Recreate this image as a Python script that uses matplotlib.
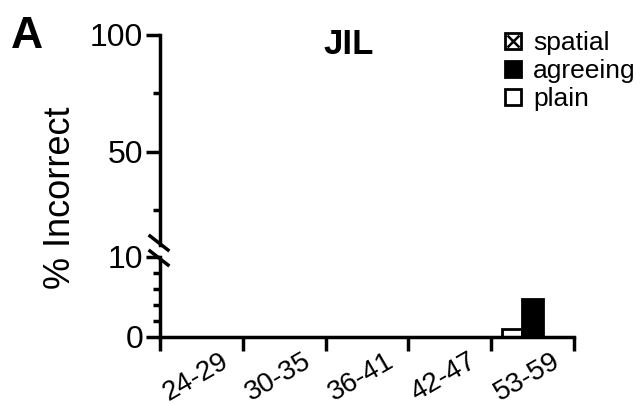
import matplotlib
matplotlib.use("Agg")
import matplotlib.pyplot as plt
from matplotlib.lines import Line2D
from matplotlib.legend_handler import HandlerTuple
import numpy as np

plt.rcParams['font.family'] = ['Liberation Sans', 'DejaVu Sans']
plt.rcParams['hatch.linewidth'] = 1.5

groups = ['24-29', '30-35', '36-41', '42-47', '53-59']
spatial = [0, 0, 0, 0, 1.0]
agreeing = [0, 0, 0, 0, 4.8]
plain = [0, 0, 0, 0, 0]

fig = plt.figure(figsize=(6.4, 4.05), dpi=100)
left, width = 160 / 640, 414 / 640
ax_top = fig.add_axes([left, 160 / 405, width, 210 / 405])
ax_bot = fig.add_axes([left, 68 / 405, width, 80 / 405])

x = np.arange(len(groups)) + 0.5
w = 0.25
for ax in (ax_top, ax_bot):
    ax.bar(x - w, spatial, w, color='white', edgecolor='black', hatch='x', linewidth=2)
    ax.bar(x, agreeing, w, color='black', edgecolor='black', linewidth=2)
    ax.bar(x + w, plain, w, color='white', edgecolor='black', linewidth=2)
    ax.set_xlim(0, 5)
    for s in ('top', 'right'):
        ax.spines[s].set_visible(False)
    ax.spines['left'].set_linewidth(2.5)
    ax.tick_params(axis='y', width=2.5, length=10, labelsize=23, pad=2)
    ax.tick_params(axis='y', which='minor', width=2.5, length=5)

ax_top.set_ylim(10, 100)
ax_top.set_yticks([50, 100])
ax_top.set_yticks([25, 75], minor=True)
ax_top.spines['bottom'].set_visible(False)
ax_top.set_xticks([])

ax_bot.set_ylim(0, 10)
ax_bot.set_yticks([0, 10])
ax_bot.set_yticks([2, 4, 6, 8], minor=True)
ax_bot.spines['bottom'].set_linewidth(2.5)
ax_bot.set_xticks(np.arange(6))
ax_bot.set_xticklabels([])
ax_bot.tick_params(axis='x', width=2.5, length=10)
for xi, g in zip(x, groups):
    ax_bot.text(xi - 0.07, -1.4, g, rotation=30, ha='center', va='top', fontsize=20)

# break marks
kw = dict(color='black', linewidth=2.5, clip_on=False, transform=fig.transFigure)
for yp in (243, 258):
    fig.add_artist(plt.Line2D([150 / 640, 168 / 640], [(405 - yp + 7) / 405, (405 - yp - 7) / 405], **kw))

fig.text(61 / 640, 1 - 198 / 405, '% Incorrect', rotation=90, ha='center', va='center', fontsize=26)
fig.text(11 / 640, 1 - 37 / 405, 'A', fontsize=32, fontweight='bold', va='center')
fig.text(349 / 640, 1 - 45 / 405, 'JIL', fontsize=25, fontweight='bold', ha='center', va='center')

sq = dict(linestyle='none', marker='s', markersize=12, markeredgecolor='black', markeredgewidth=2)
handles = [(Line2D([], [], markerfacecolor='white', **sq),
            Line2D([], [], linestyle='none', marker='x', markersize=8, color='black', markeredgewidth=1.8)),
           Line2D([], [], markerfacecolor='black', **sq),
           Line2D([], [], markerfacecolor='white', **sq)]
fig.legend(handles, ['spatial', 'agreeing', 'plain'], loc='upper left',
           bbox_to_anchor=(503 / 640, 1 - 31 / 405), frameon=False, fontsize=19,
           handlelength=0.75, handletextpad=0.4, labelspacing=0.15,
           borderpad=0, borderaxespad=0, handler_map={tuple: HandlerTuple(ndivide=1)})

fig.savefig('out.png', dpi=100)
